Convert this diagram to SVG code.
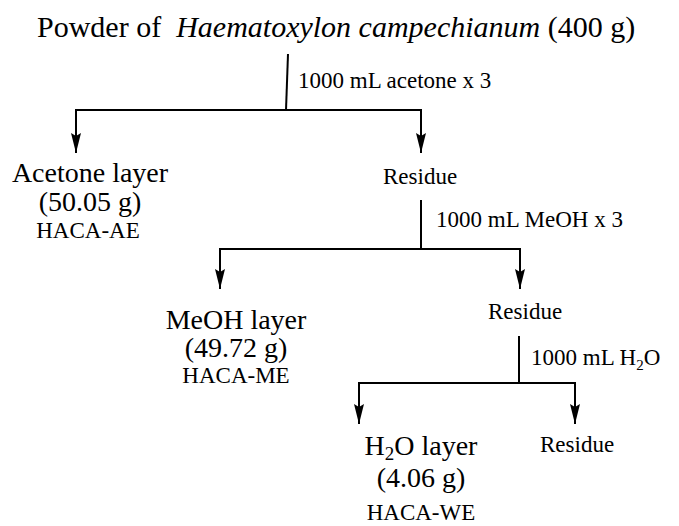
<svg xmlns="http://www.w3.org/2000/svg" width="679" height="526" viewBox="0 0 679 526">
  <defs>
    <!-- slim filled arrowhead, drawn along +x so orient="auto" turns it with the line -->
    <marker id="arrow" markerWidth="20" markerHeight="10" refX="20" refY="5" orient="auto" markerUnits="userSpaceOnUse" viewBox="0 0 20 10">
      <path d="M0,0 L20,5 L0,10 L3,5 Z" fill="#000"/>
    </marker>
    <style>
      text { font-family: "Liberation Serif", "Times New Roman", serif; fill: #000; }
      .title { font-size: 30px; }
      .big { font-size: 28px; text-anchor: middle; }
      .code { font-size: 23px; text-anchor: middle; }
      .small { font-size: 23px; }
      .line { stroke: #000; stroke-width: 2; fill: none; }
      .down { stroke: #000; stroke-width: 2; fill: none; marker-end: url(#arrow); }
    </style>
  </defs>
  <rect width="679" height="526" fill="#fff"/>

  <g id="start">
    <text class="title" x="37" y="37">Powder of&#160; <tspan font-style="italic">Haematoxylon campechianum</tspan> (400 g)</text>
  </g>

  <g id="connectors">
    <!-- acetone extraction -->
    <path class="line" d="M288,54 L286,110"/>
    <path class="line" d="M75,110 L422,110"/>
    <path class="down" d="M76,110 L76,153"/>
    <path class="down" d="M421,110 L421,153"/>
    <!-- methanol extraction -->
    <path class="line" d="M421,200 L421,249"/>
    <path class="line" d="M219,249 L521,249"/>
    <path class="down" d="M220,249 L220,289"/>
    <path class="down" d="M520,249 L520,289"/>
    <!-- water extraction -->
    <path class="line" d="M519,336 L519,383"/>
    <path class="line" d="M358,383 L576,383"/>
    <path class="down" d="M359,383 L359,424"/>
    <path class="down" d="M575,383 L575,424"/>
  </g>

  <g id="step1-label">
    <text class="small" x="298" y="88">1000 mL acetone x 3</text>
  </g>
  <g id="acetone-layer">
    <text class="big" x="90" y="182">Acetone layer</text>
    <text class="big" x="90" y="211">(50.05 g)</text>
    <text class="code" x="88" y="238">HACA-AE</text>
  </g>
  <g id="residue-1">
    <text class="small" x="383" y="184">Residue</text>
  </g>

  <g id="step2-label">
    <text class="small" x="436" y="227">1000 mL MeOH x 3</text>
  </g>
  <g id="meoh-layer">
    <text class="big" x="236" y="329">MeOH layer</text>
    <text class="big" x="236" y="357">(49.72 g)</text>
    <text class="code" x="236" y="383">HACA-ME</text>
  </g>
  <g id="residue-2">
    <text class="small" x="488" y="319">Residue</text>
  </g>

  <g id="step3-label">
    <text class="small" x="531" y="365">1000 mL H<tspan font-size="15" dy="5">2</tspan><tspan dy="-5">O</tspan></text>
  </g>
  <g id="water-layer">
    <text class="big" x="421" y="455">H<tspan font-size="19" dy="5">2</tspan><tspan dy="-5">O layer</tspan></text>
    <text class="big" x="421" y="487">(4.06 g)</text>
    <text class="code" x="421" y="520">HACA-WE</text>
  </g>
  <g id="residue-3">
    <text class="small" x="540" y="452">Residue</text>
  </g>
</svg>
